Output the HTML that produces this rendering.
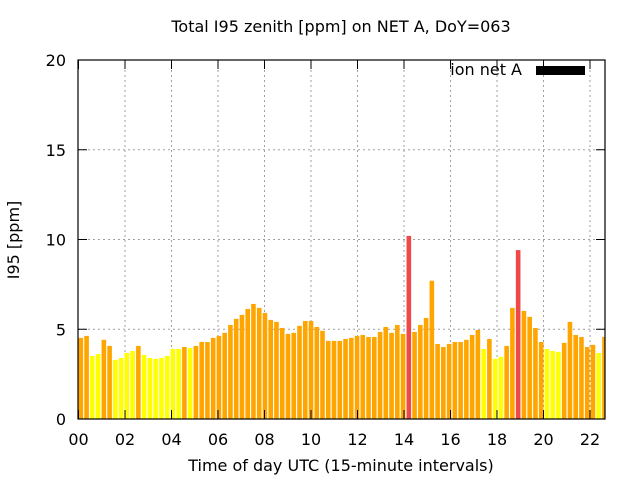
<!DOCTYPE html>
<html><head><meta charset="utf-8"><style>
body{margin:0;background:#fff}
svg{display:block;font-family:"DejaVu Sans","Liberation Sans",sans-serif}
</style></head><body>
<svg id="chart" width="640" height="480">
<rect width="640" height="480" fill="#fff"/>
<text x="341" y="32" font-size="16" text-anchor="middle">Total I95 zenith [ppm] on NET A, DoY=063</text>
<text x="341" y="471" font-size="16" text-anchor="middle">Time of day UTC (15-minute intervals)</text>
<text x="19" y="240" font-size="16" text-anchor="middle" transform="rotate(-90 19 240)">I95 [ppm]</text>
<defs><clipPath id="pc"><rect x="78" y="60" width="527" height="359"/></clipPath></defs>
<g id="grid"></g>
<g id="bars" clip-path="url(#pc)"></g>
<g id="axes"></g>
<text x="522" y="75" font-size="16" text-anchor="end">ion net A</text>
<rect x="536" y="66" width="49" height="9" fill="#000"/>
</svg>
<script>
const values = [4.52,4.63,3.51,3.62,4.41,4.07,3.29,3.40,3.68,3.79,4.07,3.57,3.40,3.35,3.40,3.51,3.90,3.90,4.01,3.96,4.07,4.29,4.29,4.52,4.63,4.80,5.24,5.58,5.80,6.13,6.41,
6.19,5.91,5.52,5.41,5.07,4.74,4.80,5.19,5.46,5.46,5.13,4.91,4.35,4.35,4.35,4.46,4.52,4.63,4.68,4.57,4.57,4.85,5.13,4.80,5.24,4.74,10.2,4.85,5.24,5.63,
7.7,4.18,4.01,4.18,4.29,4.29,4.41,4.68,4.96,3.90,4.46,3.35,3.46,4.07,6.19,9.41,6.02,5.69,5.07,4.29,3.90,3.79,3.74,4.24,5.41,4.68,4.57,4.01,4.13,3.68,4.57];
const yTicks = [0,5,10,15,20];
const xTickHours = [0,2,4,6,8,10,12,14,16,18,20,22];
const xTickLabels = ["00","02","04","06","08","10","12","14","16","18","20","22"];
const NS="http://www.w3.org/2000/svg";
const X0=78,X1=605,Y0=419,Y1=60;
const xs=t=>78.5+23.25*t;
const ys=v=>Y0-(v/20)*(Y0-Y1);
function mk(tag,attrs,parent){const e=document.createElementNS(NS,tag);for(const k in attrs)e.setAttribute(k,attrs[k]);parent.appendChild(e);return e;}
const grid=document.getElementById('grid'),bars=document.getElementById('bars'),axes=document.getElementById('axes');
yTicks.forEach((v,i)=>{
  const y=ys(v);
  if(v>0&&v<20){const l=mk('line',{x1:X0,x2:X1,y1:y,y2:y,stroke:'#a0a0a0','stroke-dasharray':'2,3'},grid);
  
  }
  mk('line',{x1:X0,x2:X0+9,y1:y,y2:y,stroke:'#000'},axes);
  mk('line',{x1:X1,x2:X1-9,y1:y,y2:y,stroke:'#000'},axes);
  const t=mk('text',{x:X0-12,y:y+6,'font-size':16,'text-anchor':'end'},axes);
  t.textContent=v;
  
  
});
xTickHours.forEach((h,i)=>{
  const x=xs(h);
  if(h>0){const l=mk('line',{x1:x,x2:x,y1:Y1,y2:Y0,stroke:'#a0a0a0','stroke-dasharray':'2,3'},grid);
  
  }
  mk('line',{x1:x,x2:x,y1:Y0,y2:Y0-9,stroke:'#000'},axes);
  mk('line',{x1:x,x2:x,y1:Y1,y2:Y1+9,stroke:'#000'},axes);
  const t=mk('text',{x:x,y:445,'font-size':16,'text-anchor':'middle'},axes);
  t.textContent=xTickLabels[i];
  
  
});
values.forEach((v,k)=>{
  const t=0.1+0.2475*k, cx=xs(t), w=4.6;
  const col=v>=9?'#f04848':(v>=4?'#ffa500':'#ffff00');
  const r=mk('rect',{x:cx-w/2,y:ys(v),width:w,height:Y0-ys(v),fill:col},bars);
  
  
});
const b=mk('rect',{x:X0,y:Y1,width:X1-X0,height:Y0-Y1,fill:'none',stroke:'#000','stroke-width':1.2},axes);


</script>
</body></html>
